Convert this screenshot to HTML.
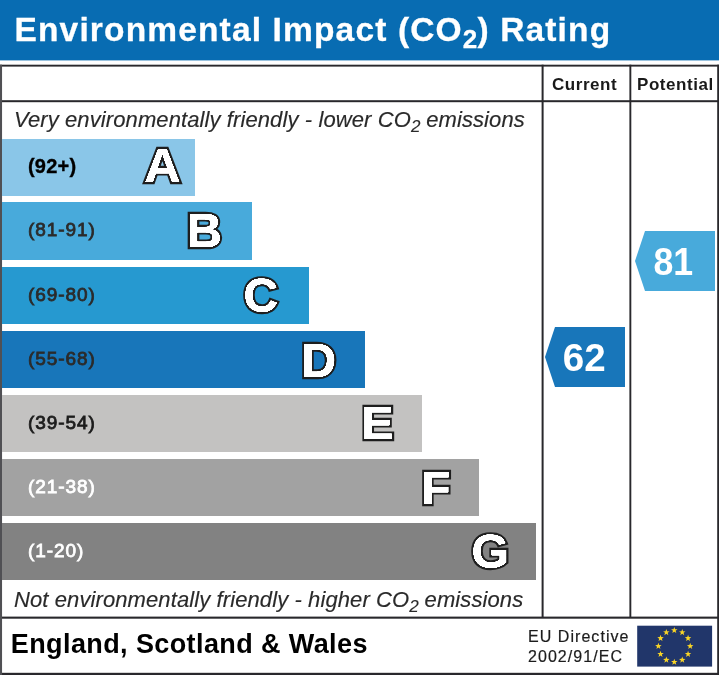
<!DOCTYPE html>
<html><head><meta charset="utf-8">
<style>
html,body{margin:0;padding:0;background:#fff;}
body{width:719px;height:675px;position:relative;overflow:hidden;font-family:"Liberation Sans",Arial,sans-serif;}
.abs{position:absolute;}
.hdr{left:0;top:0;width:719px;height:60px;background:#086cb2;}
.title{left:14.5px;top:9.7px;-webkit-text-stroke:0.3px #fff;color:#fff;font-weight:bold;font-size:33.5px;line-height:40px;white-space:nowrap;letter-spacing:1.15px;}
.title sub{font-size:26px;vertical-align:baseline;position:relative;top:7px;margin-right:-1px;}
.ln{background:#2b2b2b;}
.bar{left:2px;height:57px;}
.rng{left:28px;font-weight:normal;-webkit-text-stroke:0.8px #2b2b2b;font-size:19px;line-height:57px;color:#2b2b2b;white-space:nowrap;letter-spacing:0.95px;margin-top:-1.5px;}
.it{left:14px;font-style:italic;font-size:22px;letter-spacing:0.1px;color:#2a2a2a;-webkit-text-stroke:0.15px #2a2a2a;white-space:nowrap;line-height:26px;}
.it sub{font-size:17px;vertical-align:baseline;position:relative;top:4.5px;margin-right:-0.5px;}
.col{font-weight:bold;font-size:17px;letter-spacing:0.55px;color:#1a1a1a;line-height:20px;white-space:nowrap;}
.foot{left:10.8px;top:628px;font-weight:bold;font-size:27px;line-height:32px;letter-spacing:0.4px;color:#000;white-space:nowrap;}
.eu{left:528px;top:627px;font-size:16px;line-height:20.4px;letter-spacing:1.05px;color:#1c1c1c;-webkit-text-stroke:0.2px #1c1c1c;white-space:nowrap;}
svg text{font-family:"Liberation Sans",Arial,sans-serif;font-weight:bold;}
</style></head><body>
<div class="abs hdr"></div>
<div class="abs" style="left:0;top:60px;width:719px;height:1px;background:#9cc4e0;"></div>
<div class="abs title">Environmental Impact (CO<sub>2</sub>) Rating</div>

<!-- frame -->
<svg class="abs" style="left:0;top:0;" width="719" height="675" viewBox="0 0 719 675">
 <g fill="#29282c">
  <rect x="0" y="64.7" width="719" height="1.9"/>
  <rect x="0" y="100.2" width="719" height="2"/>
  <rect x="0" y="616.6" width="719" height="2.1"/>
  <rect x="0" y="672.8" width="719" height="2.2"/>
  <rect x="717.2" y="64.7" width="1.8" height="611"/>
  <rect x="541.6" y="64.7" width="2" height="553"/>
  <rect x="629.4" y="64.7" width="1.9" height="553"/>
 </g>
 <rect x="0" y="64.7" width="2.05" height="611" fill="#505054"/>
</svg>

<div class="abs col" style="left:552px;top:74.5px;">Current</div>
<div class="abs col" style="left:637px;top:74.5px;">Potential</div>

<div class="abs it" style="top:107px;">Very environmentally friendly - lower CO<sub>2</sub> emissions</div>
<div class="abs it" style="top:587px;">Not environmentally friendly - higher CO<sub>2</sub> emissions</div>

<!-- bars -->
<div class="abs bar" style="top:139px;height:57px;width:193px;background:#8ac6e8;"></div>
<div class="abs bar" style="top:202px;height:58px;width:250px;background:#48aadb;"></div>
<div class="abs bar" style="top:267px;height:57px;width:307px;background:#2699d0;"></div>
<div class="abs bar" style="top:331px;width:363px;background:#1876ba;"></div>
<div class="abs bar" style="top:395px;width:420px;background:#c3c2c1;"></div>
<div class="abs bar" style="top:459px;width:477px;background:#a2a2a2;"></div>
<div class="abs bar" style="top:523px;width:534px;background:#828282;"></div>

<div class="abs rng" style="top:139px;color:#000;letter-spacing:0.2px;font-weight:bold;font-size:20px;-webkit-text-stroke:0.35px #000;margin-top:-1.5px;">(92+)</div>
<div class="abs rng" style="top:202px;">(81-91)</div>
<div class="abs rng" style="top:267px;">(69-80)</div>
<div class="abs rng" style="top:331px;">(55-68)</div>
<div class="abs rng" style="top:395px;color:#1c1c1c;-webkit-text-stroke-color:#1c1c1c;">(39-54)</div>
<div class="abs rng" style="top:459px;color:#fff;-webkit-text-stroke-color:#fff;">(21-38)</div>
<div class="abs rng" style="top:523px;color:#fff;-webkit-text-stroke-color:#fff;">(1-20)</div>

<svg class="abs" style="left:0;top:0;" width="719" height="675" viewBox="0 0 719 675">
 <defs><filter id="ol" x="-20%" y="-20%" width="140%" height="140%" color-interpolation-filters="sRGB">
  <feColorMatrix in="SourceGraphic" type="matrix" values="0 0 0 0 1  0 0 0 0 1  0 0 0 0 1  1.3 0 0 0 -0.3" result="w"/>
  <feGaussianBlur in="w" stdDeviation="0.75" result="b"/>
  <feComponentTransfer in="b" result="t"><feFuncA type="linear" slope="6" intercept="-0.45"/></feComponentTransfer>
  <feMerge><feMergeNode in="SourceGraphic"/><feMergeNode in="t"/></feMerge>
 </filter></defs>
 <g font-size="47" fill="#fff" stroke="#1e1e1e" stroke-width="4.5" paint-order="stroke" stroke-linejoin="miter" stroke-miterlimit="3" text-anchor="middle" filter="url(#ol)">
  <text transform="translate(162.5,182.1) scale(1.07,1.01)">A</text>
  <text transform="translate(204.4,247.3) scale(1.04,1.035)">B</text>
  <text transform="translate(260.8,312.2) scale(1.02,1.025)">C</text>
  <text transform="translate(318.8,376.8) scale(1.03,1.025)">D</text>
  <text transform="translate(377.6,439.0) scale(1.03,1.0)">E</text>
  <text transform="translate(436.0,503.8) scale(1.02,1.0)">F</text>
  <text transform="translate(490.2,568.3) scale(1.03,1.01)">G</text>
 </g>
 <polygon points="545,357 555,327 625,327 625,387 555,387" fill="#1876ba"/>
 <polygon points="635,261 645,231 715,231 715,291 645,291" fill="#48aadb"/>
 <g font-size="38" fill="#fff" text-anchor="middle">
  <text x="584.3" y="370.5" font-size="38.6">62</text>
  <text transform="translate(673.3,274.6) scale(0.94,1)">81</text>
 </g>
</svg>

<div class="abs foot">England, Scotland &amp; Wales</div>
<div class="abs eu">EU Directive<br>2002/91/EC</div>

<!-- EU flag -->
<svg class="abs" style="left:0;top:0;" width="719" height="675" viewBox="0 0 719 675">
 <rect x="637.2" y="625.7" width="74.9" height="40.9" fill="#21366a"/>
 <g fill="#f9d526">
  <polygon points="674.30,626.90 675.12,629.17 677.53,629.25 675.63,630.73 676.30,633.05 674.30,631.70 672.30,633.05 672.97,630.73 671.07,629.25 673.48,629.17"/>
  <polygon points="682.25,629.03 683.07,631.30 685.48,631.38 683.58,632.86 684.25,635.18 682.25,633.83 680.25,635.18 680.92,632.86 679.02,631.38 681.43,631.30"/>
  <polygon points="688.07,634.85 688.89,637.12 691.30,637.20 689.40,638.68 690.07,641.00 688.07,639.65 686.07,641.00 686.74,638.68 684.84,637.20 687.25,637.12"/>
  <polygon points="690.20,642.80 691.02,645.07 693.43,645.15 691.53,646.63 692.20,648.95 690.20,647.60 688.20,648.95 688.87,646.63 686.97,645.15 689.38,645.07"/>
  <polygon points="688.07,650.75 688.89,653.02 691.30,653.10 689.40,654.58 690.07,656.90 688.07,655.55 686.07,656.90 686.74,654.58 684.84,653.10 687.25,653.02"/>
  <polygon points="682.25,656.57 683.07,658.84 685.48,658.92 683.58,660.40 684.25,662.72 682.25,661.37 680.25,662.72 680.92,660.40 679.02,658.92 681.43,658.84"/>
  <polygon points="674.30,658.70 675.12,660.97 677.53,661.05 675.63,662.53 676.30,664.85 674.30,663.50 672.30,664.85 672.97,662.53 671.07,661.05 673.48,660.97"/>
  <polygon points="666.35,656.57 667.17,658.84 669.58,658.92 667.68,660.40 668.35,662.72 666.35,661.37 664.35,662.72 665.02,660.40 663.12,658.92 665.53,658.84"/>
  <polygon points="660.53,650.75 661.35,653.02 663.76,653.10 661.86,654.58 662.53,656.90 660.53,655.55 658.53,656.90 659.20,654.58 657.30,653.10 659.71,653.02"/>
  <polygon points="658.40,642.80 659.22,645.07 661.63,645.15 659.73,646.63 660.40,648.95 658.40,647.60 656.40,648.95 657.07,646.63 655.17,645.15 657.58,645.07"/>
  <polygon points="660.53,634.85 661.35,637.12 663.76,637.20 661.86,638.68 662.53,641.00 660.53,639.65 658.53,641.00 659.20,638.68 657.30,637.20 659.71,637.12"/>
  <polygon points="666.35,629.03 667.17,631.30 669.58,631.38 667.68,632.86 668.35,635.18 666.35,633.83 664.35,635.18 665.02,632.86 663.12,631.38 665.53,631.30"/>
 </g>
</svg>
</body></html>
